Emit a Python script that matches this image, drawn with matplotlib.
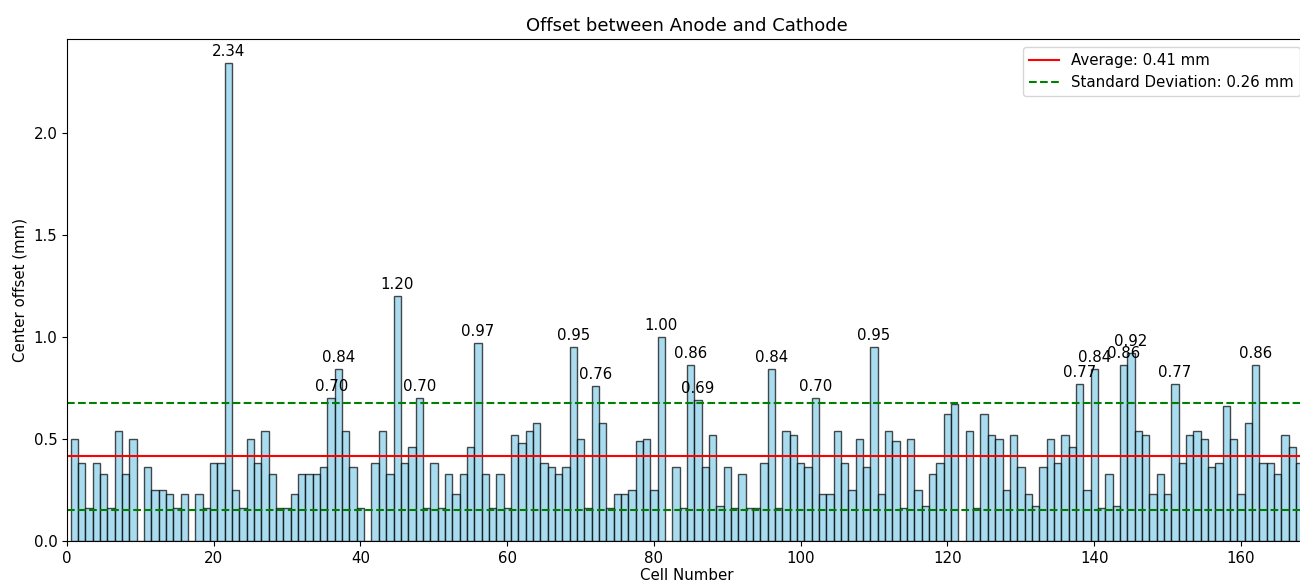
import matplotlib
matplotlib.use("Agg")
import matplotlib.pyplot as plt
import numpy as np

cells = list(range(1, 169))
offsets = [
    0.50, 0.38, 0.16, 0.38, 0.33, 0.16, 0.54, 0.33, 0.50, 0.00,
    0.36, 0.25, 0.25, 0.23, 0.16, 0.23, 0.00, 0.23, 0.16, 0.38,
    0.38, 2.34, 0.25, 0.16, 0.50, 0.38, 0.54, 0.33, 0.16, 0.16,
    0.23, 0.33, 0.33, 0.33, 0.36, 0.70, 0.84, 0.54, 0.36, 0.16,
    0.00, 0.38, 0.54, 0.33, 1.20, 0.38, 0.46, 0.70, 0.16, 0.38,
    0.16, 0.33, 0.23, 0.33, 0.46, 0.97, 0.33, 0.16, 0.33, 0.16,
    0.52, 0.48, 0.54, 0.58, 0.38, 0.36, 0.33, 0.36, 0.95, 0.50,
    0.16, 0.76, 0.58, 0.16, 0.23, 0.23, 0.25, 0.49, 0.50, 0.25,
    1.00, 0.00, 0.36, 0.16, 0.86, 0.69, 0.36, 0.52, 0.17, 0.36,
    0.16, 0.33, 0.16, 0.16, 0.38, 0.84, 0.16, 0.54, 0.52, 0.38,
    0.36, 0.70, 0.23, 0.23, 0.54, 0.38, 0.25, 0.50, 0.36, 0.95,
    0.23, 0.54, 0.49, 0.16, 0.50, 0.25, 0.17, 0.33, 0.38, 0.62,
    0.67, 0.00, 0.54, 0.16, 0.62, 0.52, 0.50, 0.25, 0.52, 0.36,
    0.23, 0.17, 0.36, 0.50, 0.38, 0.52, 0.46, 0.77, 0.25, 0.84,
    0.16, 0.33, 0.17, 0.86, 0.92, 0.54, 0.52, 0.23, 0.33, 0.23,
    0.77, 0.38, 0.52, 0.54, 0.50, 0.36, 0.38, 0.66, 0.50, 0.23,
    0.58, 0.86, 0.38, 0.38, 0.33, 0.52, 0.46, 0.38,
]
average = 0.414
std_dev = 0.261

plt.rcParams["font.size"] = 10.8

fig = plt.figure(figsize=(13, 5.85), dpi=100)
ax = fig.add_axes([67 / 1300, 44 / 585, (1307 - 67) / 1300, (541 - 39.3) / 585])

ax.bar(cells, offsets, width=1.0, color="skyblue", edgecolor="black", alpha=0.7)
ax.axhline(average, color="red", linestyle="-", label=f"Average: {average:.2f} mm")
ax.axhline(average + std_dev, color="green", linestyle="--",
           label=f"Standard Deviation: {std_dev:.2f} mm")
ax.axhline(average - std_dev, color="green", linestyle="--")

for c, v in zip(cells, offsets):
    if v > average + std_dev:
        ax.text(c, v + 0.02, f"{v:.2f}", ha="center", va="bottom", fontsize=10.8)

ax.set_xlim(0, len(cells) + 1)
ax.set_title("Offset between Anode and Cathode", fontsize=13)
ax.set_xlabel("Cell Number", labelpad=2)
ax.set_ylabel("Center offset (mm)")
ax.legend(loc="upper right")

fig.savefig("out.png", dpi=100)
